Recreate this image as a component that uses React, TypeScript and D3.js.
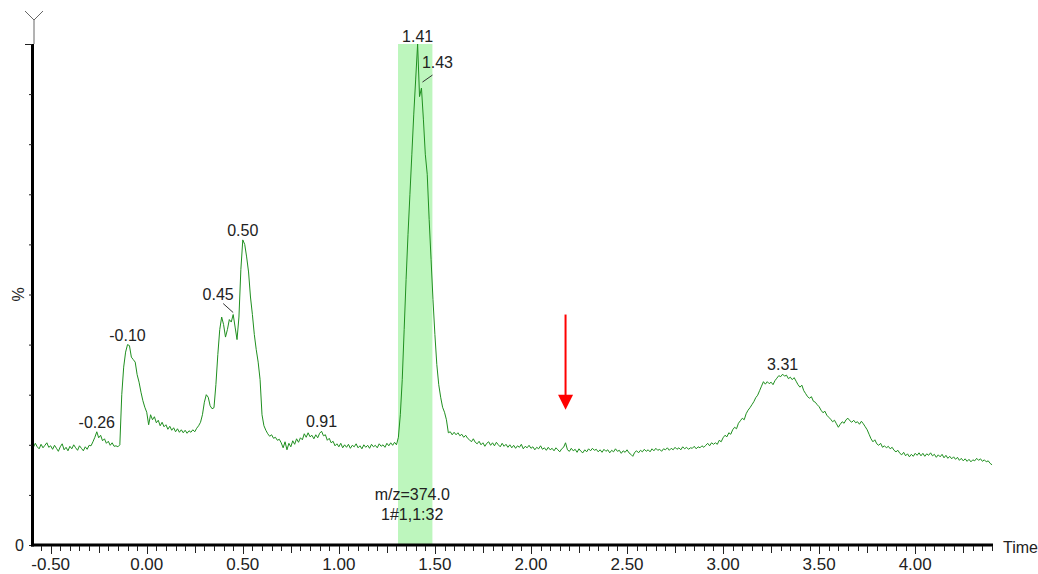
import React from "react";
import * as d3 from "d3";

// Chromatogram intensity (%) sampled every 0.01 time units; each row: [start time, values]
const INTENSITY_ROWS: [number, number[]][] = [
  [-0.59, [19.5, 20.3, 19.6, 19.2, 20.1, 19.4, 19.9, 20.4, 19.5]],
  [-0.5, [19.8, 19.1, 19.9, 19.3, 18.7, 19.6, 20.2, 19.0, 19.5, 18.8]],
  [-0.4, [19.7, 19.2, 20.0, 19.4, 18.9, 19.8, 19.3, 18.8, 19.6, 19.1]],
  [-0.3, [19.9, 19.8, 20.6, 21.5, 22.6, 21.4, 21.9, 20.8, 21.2, 20.3]],
  [-0.2, [20.7, 19.9, 20.4, 19.7, 19.8, 19.6, 20.0, 30.0, 35.5, 38.5]],
  [-0.1, [40.0, 39.8, 37.5, 37.0, 36.5, 34.0, 32.5, 30.5, 28.8, 27.5]],
  [0.0, [26.5, 24.0, 26.0, 25.0, 25.6, 24.4, 24.9, 23.8, 24.5, 23.6]],
  [0.1, [24.0, 23.1, 23.7, 22.9, 23.4, 22.6, 23.2, 22.5, 23.0, 22.4]],
  [0.2, [22.9, 22.3, 22.8, 22.5, 23.0, 22.6, 23.3, 23.8, 24.5, 26.0]],
  [0.3, [28.5, 30.0, 29.5, 27.8, 27.2, 27.4, 32.0, 38.0, 43.0, 45.5]],
  [0.4, [44.0, 41.5, 43.0, 45.0, 44.5, 46.0, 43.5, 41.0, 45.5, 55.0]],
  [0.5, [60.9, 60.0, 57.5, 54.5, 49.5, 46.0, 42.0, 39.0, 36.5, 33.0]],
  [0.6, [26.0, 23.8, 22.9, 22.2, 21.7, 22.0, 21.3, 21.5, 20.9, 21.1]],
  [0.7, [20.4, 19.4, 20.6, 19.0, 20.3, 19.6, 20.8, 20.1, 21.2, 20.5]],
  [0.8, [21.4, 21.0, 22.2, 21.5, 22.4, 21.6, 21.9, 21.2, 22.0, 21.4]],
  [0.9, [22.3, 22.7, 21.8, 22.0, 20.9, 21.3, 20.4, 20.7, 19.8, 20.2]],
  [1.0, [19.6, 20.3, 19.4, 20.0, 19.5, 20.1, 19.3, 19.9, 19.6, 20.2]],
  [1.1, [19.4, 19.8, 19.2, 20.0, 19.5, 19.9, 19.3, 20.1, 19.6, 19.9]],
  [1.2, [19.4, 20.2, 19.7, 20.0, 19.5, 20.3, 19.8, 20.4, 19.9, 20.5]],
  [1.3, [20.0, 21.5, 26.0, 33.0, 43.0, 53.0, 62.0, 70.0, 78.0, 86.0]],
  [1.4, [93.0, 100.0, 89.5, 91.2, 85.0, 78.0, 74.0, 65.0, 57.0, 49.0]],
  [1.5, [42.0, 36.0, 32.0, 29.5, 27.5, 26.5, 25.0, 22.4, 22.6, 22.0]],
  [1.6, [22.5, 22.0, 22.4, 21.8, 22.1, 21.5, 21.9, 21.3, 21.0, 20.6]],
  [1.7, [21.2, 20.5, 20.2, 20.7, 20.0, 20.4, 19.7, 20.3, 20.6, 19.9]],
  [1.8, [20.4, 19.8, 20.5, 20.0, 19.6, 20.3, 19.7, 20.1, 19.5, 20.0]],
  [1.9, [19.4, 19.9, 19.3, 19.8, 19.5, 20.1, 19.2, 19.7, 19.4, 19.9]],
  [2.0, [19.3, 19.6, 19.0, 19.5, 19.2, 19.8, 19.1, 19.4, 18.9, 19.5]],
  [2.1, [19.0, 19.3, 18.8, 19.4, 19.0, 18.6, 19.2, 19.5, 20.4, 19.0]],
  [2.2, [18.7, 19.3, 18.8, 19.1, 18.5, 19.2, 18.7, 18.4, 19.0, 18.6]],
  [2.3, [19.2, 18.8, 19.3, 18.9, 19.1, 18.6, 19.0, 18.5, 19.1, 18.7]],
  [2.4, [19.0, 18.4, 18.9, 18.6, 19.2, 18.7, 18.9, 18.3, 18.8, 18.5]],
  [2.5, [19.0, 18.4, 18.1, 17.7, 18.5, 18.8, 18.4, 18.9, 18.6, 19.1]],
  [2.6, [18.7, 19.0, 18.6, 19.2, 18.8, 19.3, 18.9, 19.1, 18.7, 19.2]],
  [2.7, [19.0, 19.4, 18.9, 19.3, 19.0, 19.5, 19.1, 19.4, 19.0, 19.6]],
  [2.8, [19.2, 19.5, 19.1, 19.4, 19.3, 19.7, 19.2, 19.6, 19.4, 19.8]],
  [2.9, [19.5, 19.9, 20.3, 19.8, 20.4, 20.1, 20.4, 20.1, 20.9, 20.6]],
  [3.0, [21.4, 21.9, 21.6, 22.4, 22.1, 23.0, 23.5, 23.2, 24.3, 24.8]],
  [3.1, [25.3, 25.0, 26.2, 26.9, 27.4, 28.0, 28.6, 29.4, 29.9, 30.8]],
  [3.2, [31.7, 32.6, 32.1, 32.6, 32.2, 32.5, 32.0, 32.8, 33.3, 33.8]],
  [3.3, [33.6, 34.1, 33.7, 33.9, 33.2, 33.5, 33.0, 33.4, 32.7, 32.0]],
  [3.4, [31.5, 31.9, 30.8, 30.2, 29.6, 29.3, 29.6, 28.7, 28.5, 28.0]],
  [3.5, [27.6, 26.9, 26.4, 26.7, 25.9, 25.5, 25.1, 24.6, 24.9, 24.2]],
  [3.6, [23.5, 24.1, 24.6, 24.3, 25.0, 25.3, 24.8, 24.5, 24.9, 24.4]],
  [3.7, [24.6, 24.1, 24.7, 24.2, 23.6, 23.0, 22.1, 21.2, 20.6, 21.0]],
  [3.8, [20.2, 19.9, 20.3, 19.5, 19.8, 19.4, 19.7, 19.2, 19.5, 18.9]],
  [3.9, [18.6, 18.9, 18.3, 18.0, 18.5, 17.8, 18.2, 17.6, 18.1, 17.7]],
  [4.0, [18.3, 17.9, 18.4, 17.8, 18.3, 17.7, 18.2, 17.9, 18.4, 17.8]],
  [4.1, [18.1, 17.5, 18.0, 17.6, 18.1, 17.4, 17.9, 17.3, 17.7, 17.2]],
  [4.2, [17.6, 17.1, 17.5, 16.9, 17.3, 16.8, 17.2, 16.7, 17.1, 16.6]],
  [4.3, [17.0, 16.8, 17.3, 16.9, 17.2, 16.7, 17.0, 16.6, 16.8, 16.3]],
  [4.4, [16.0]],
];
const SAMPLE_STEP = 0.01;

const PEAK_TIMES = [-0.26, -0.1, 0.45, 0.5, 0.91, 1.41, 1.43, 3.31];
const PEAK_TEXTS = ["-0.26", "-0.10", "0.45", "0.50", "0.91", "1.41", "1.43", "3.31"];

const X_TICK_VALUES = [-0.5, 0, 0.5, 1, 1.5, 2, 2.5, 3, 3.5, 4];
const X_TICK_LABELS = ["-0.50", "0.00", "0.50", "1.00", "1.50", "2.00", "2.50", "3.00", "3.50", "4.00"];
const Y_TICK_VALUES = [0, 10, 20, 30, 40, 50, 60, 70, 80, 90, 100];

const X_DOMAIN: [number, number] = [-0.592, 4.405];
const BAND_RANGE: [number, number] = [1.308, 1.487];
const BAND_TEXTS = ["m/z=374.0", "1#1,1:32"];
const ARROW_TIME = 2.18;
const ARROW_FROM = 46;
const ARROW_TO = 27;

const FONT = "'Liberation Sans', Arial, sans-serif";

export default function App() {
  const W = 1038;
  const H = 574;
  const x = d3.scaleLinear().domain(X_DOMAIN).range([33, 993]);
  const y = d3.scaleLinear().domain([0, 100]).range([545, 44]);

  const points: { t: number; v: number }[] = [];
  INTENSITY_ROWS.forEach(([start, vals]) => {
    vals.forEach((v, i) => points.push({ t: start + i * SAMPLE_STEP, v }));
  });

  const line = d3
    .line<{ t: number; v: number }>()
    .x((d) => x(d.t))
    .y((d) => y(d.v));

  const valueAt = (t: number) => {
    let best = points[0];
    for (const p of points) if (Math.abs(p.t - t) < Math.abs(best.t - t)) best = p;
    return best.v;
  };

  // minor ticks every 0.05
  const minorTicks = d3.range(-11, 89).map((k) => k * 0.05);

  const labelLayout: Record<string, { dx: number; dy: number; leader?: [number, number, number, number] }> = {
    "0.45": { dx: -15, dy: -15, leader: [-10, -11, 0, -2] },
    "1.43": { dx: 16, dy: -20, leader: [11, -13, 1, -6] },
    "1.41": { dx: 0, dy: -2 },
  };

  const bandX0 = x(BAND_RANGE[0]);
  const bandX1 = x(BAND_RANGE[1]);
  const ax = x(ARROW_TIME);
  const ay0 = y(ARROW_FROM);
  const ay1 = y(ARROW_TO);

  return (
    <svg
      width={W}
      height={H}
      style={{ position: "absolute", left: 0, top: 0, background: "#fff" }}
      fontFamily={FONT}
    >
      <rect x={0} y={0} width={W} height={H} fill="#fff" />
      {/* highlight band */}
      <rect x={bandX0} y={y(100)} width={bandX1 - bandX0} height={y(0) - y(100)} fill="#bdf6bd" />

      {/* trace */}
      <path d={line(points) || ""} fill="none" stroke="#1f8f1f" strokeWidth={1} />

      {/* Y axis */}
      <line x1={34} y1={20} x2={34} y2={44} stroke="#666" strokeWidth={1} />
      <line x1={25} y1={11} x2={34} y2={20} stroke="#666" strokeWidth={1} />
      <line x1={43} y1={11} x2={34} y2={20} stroke="#666" strokeWidth={1} />
      <line x1={32.5} y1={y(100)} x2={32.5} y2={y(0) + 1.5} stroke="#000" strokeWidth={3} />
      {Y_TICK_VALUES.map((v) => (
        <line
          key={"yt" + v}
          x1={v === 100 ? 25 : 29}
          x2={32}
          y1={y(v) + 0.5}
          y2={y(v) + 0.5}
          stroke="#222"
          strokeWidth={1}
        />
      ))}
      <text x={24} y={551} textAnchor="end" fontSize={16} fill="#222">
        0
      </text>
      <text
        transform={`translate(24, ${y(50)}) rotate(-90)`}
        textAnchor="middle"
        fontSize={16}
        fill="#222"
      >
        %
      </text>

      {/* X axis */}
      <line x1={31} y1={545} x2={x(4.405)} y2={545} stroke="#000" strokeWidth={3} />
      {minorTicks.map((t, i) => {
        const k = Math.round(t * 100);
        const len = k % 50 === 0 ? 8 : k % 25 === 0 ? 7 : 5;
        return (
          <line
            key={"xt" + i}
            x1={Math.round(x(t)) + 0.5}
            x2={Math.round(x(t)) + 0.5}
            y1={546}
            y2={546 + len}
            stroke="#222"
            strokeWidth={1}
          />
        );
      })}
      {X_TICK_VALUES.map((t, i) => (
        <text key={"xl" + i} x={x(t)} y={570} textAnchor="middle" fontSize={17} fill="#222">
          {X_TICK_LABELS[i]}
        </text>
      ))}
      <text x={1003} y={553} fontSize={16} fill="#222">
        Time
      </text>

      {/* peak labels */}
      {PEAK_TIMES.map((t, i) => {
        const txt = PEAK_TEXTS[i];
        const px = x(t);
        const py = y(valueAt(t));
        const lay = labelLayout[txt] || { dx: 0, dy: -4 };
        return (
          <g key={"pk" + i}>
            <text x={px + lay.dx} y={py + lay.dy} textAnchor="middle" fontSize={16} fill="#222">
              {txt}
            </text>
            {lay.leader && (
              <line
                x1={px + lay.leader[0]}
                y1={py + lay.leader[1]}
                x2={px + lay.leader[2]}
                y2={py + lay.leader[3]}
                stroke="#333"
                strokeWidth={1}
              />
            )}
          </g>
        );
      })}

      {/* band caption */}
      {BAND_TEXTS.map((s, i) => (
        <text
          key={"bt" + i}
          x={(bandX0 + bandX1) / 2 - 3}
          y={500 + i * 20}
          textAnchor="middle"
          fontSize={16}
          fill="#222"
        >
          {s}
        </text>
      ))}

      {/* red arrow */}
      <line x1={ax} y1={ay0} x2={ax} y2={ay1 - 14} stroke="#ff0000" strokeWidth={2} />
      <path d={`M${ax - 7.5},${ay1 - 15} L${ax + 7.5},${ay1 - 15} L${ax},${ay1} Z`} fill="#ff0000" />
    </svg>
  );
}
